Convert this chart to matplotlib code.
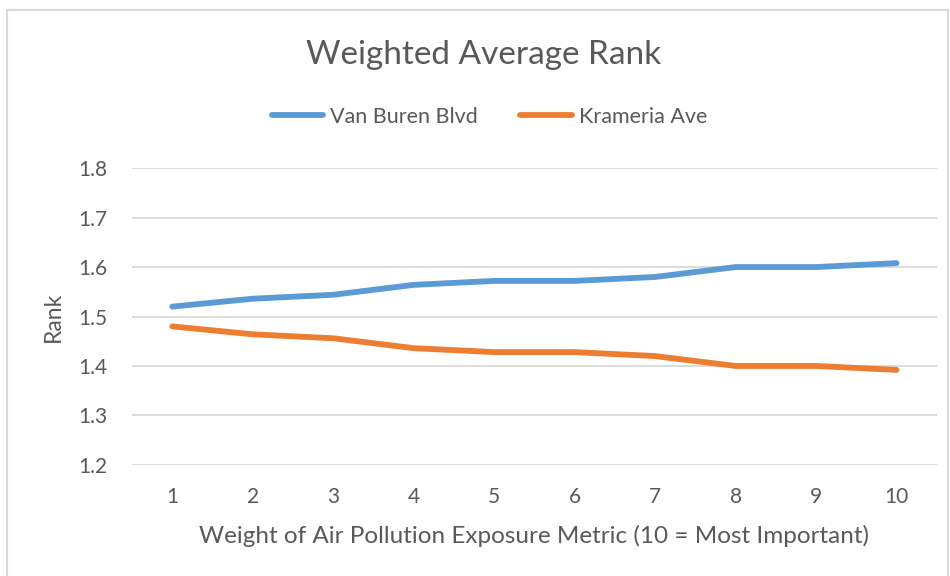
import numpy as np
import matplotlib
matplotlib.use("Agg")
import matplotlib.pyplot as plt
from matplotlib.patches import Rectangle

# ── Data ─────────────────────────────────────────────────────────────────────
weights   = [1, 2, 3, 4, 5, 6, 7, 8, 9, 10]
van_buren = [1.520, 1.536, 1.544, 1.564, 1.572, 1.572, 1.580, 1.600, 1.600, 1.608]
krameria  = [1.480, 1.464, 1.456, 1.436, 1.428, 1.428, 1.420, 1.400, 1.400, 1.392]
y_ticks   = [1.2, 1.3, 1.4, 1.5, 1.6, 1.7, 1.8]

TEXT = "#595959"
GRID = "#D9D9D9"

plt.rcParams["font.family"] = ["Lato", "DejaVu Sans"]

fig = plt.figure(figsize=(9.5, 5.76), dpi=100)
ax = fig.add_axes([0.139, 0.193, 0.847, 0.515])

# chart border (Excel style)
fig.patches.append(Rectangle((7 / 950, -0.1), 941 / 950, 1 - 10 / 576 + 0.1,
                             transform=fig.transFigure, fill=False,
                             edgecolor=GRID, lw=1.5))

ax.plot(weights, van_buren, color="#5B9BD5", lw=4.2, solid_capstyle="round",
        label="Van Buren Blvd")
ax.plot(weights, krameria, color="#ED7D31", lw=4.2, solid_capstyle="round",
        label="Krameria Ave")

ax.set_xlim(0.5, 10.5)
ax.set_ylim(1.2, 1.8)
ax.set_xticks(weights)
ax.set_yticks(y_ticks)
ax.set_yticklabels([f"{v:.1f}" for v in y_ticks])
ax.grid(axis="y", color=GRID, lw=1.3)
ax.set_axisbelow(True)
for s in ax.spines.values():
    s.set_visible(False)
ax.tick_params(length=0, labelsize=15, labelcolor=TEXT)
ax.tick_params(axis="y", pad=18)
ax.tick_params(axis="x", pad=16)

ax.set_xlabel("Weight of Air Pollution Exposure Metric (10 = Most Important)",
              fontsize=17.5, color=TEXT, labelpad=13)
ax.set_ylabel("Rank", fontsize=16.5, color=TEXT, labelpad=10)

fig.text(484 / 950, 1 - 55 / 576, "Weighted Average Rank", ha="center", va="center",
         fontsize=24, color=TEXT)

fig.legend(loc="center", bbox_to_anchor=(0.515, 1 - 117 / 576), ncol=2,
           frameon=False, fontsize=15.5, labelcolor=TEXT, handlelength=2.4,
           handletextpad=0.3, columnspacing=2.0)

plt.savefig("out.png", dpi=100, facecolor="white")
